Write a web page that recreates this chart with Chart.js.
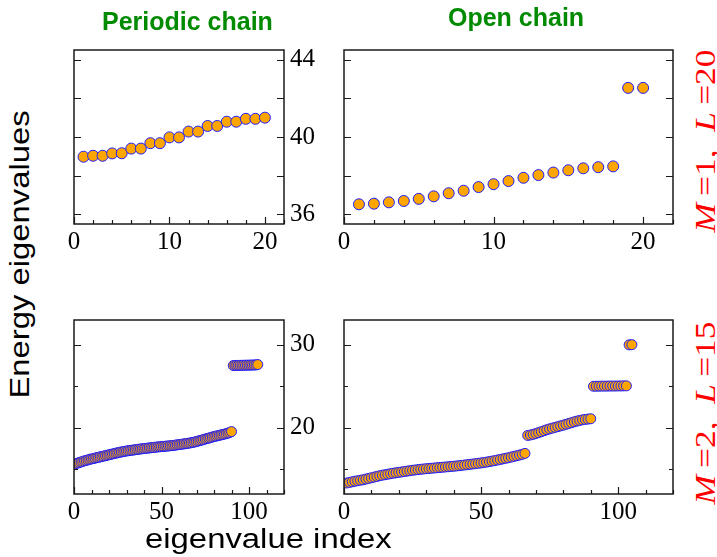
<!DOCTYPE html>
<html>
<head>
<meta charset="utf-8">
<script src="https://cdn.jsdelivr.net/npm/chart.js@4.4.0/dist/chart.umd.min.js"></script>
<style>
	body { margin: 0; background: #fff; }
	#wrap { position: relative; width: 717px; height: 557px; overflow: hidden; }
	canvas { position: absolute; }
	.lbl { position: absolute; white-space: nowrap; line-height: 1; }
	.title { font-family: 'Liberation Sans', Arial, sans-serif; font-weight: bold; font-size: 25px; color: #008a00; }
	.axis { font-family: 'Liberation Sans', Arial, sans-serif; font-size: 27px; line-height: 27px; color: #000; }
	.side { font-family: 'Liberation Serif', 'Times New Roman', serif; font-size: 30px; line-height: 30px; color: #ff0000; }
</style>
</head>
<body>
<div id="wrap">
	<canvas id="chartTL" width="266" height="236" style="left:58px;top:29px"></canvas>
	<canvas id="chartTR" width="356" height="236" style="left:328px;top:29px"></canvas>
	<canvas id="chartBL" width="266" height="236" style="left:58px;top:299px"></canvas>
	<canvas id="chartBR" width="356" height="236" style="left:328px;top:299px"></canvas>

	<div class="lbl title" style="left:102px;top:9px">Periodic chain</div>
	<div class="lbl title" style="left:448px;top:5px">Open chain</div>
	<div class="lbl axis rot" data-len="288" data-cx="20" data-cy="254">Energy eigenvalues</div>
	<div class="lbl axis" data-len="247" data-cx="268" data-cy="539">eigenvalue index</div>
	<div class="lbl side rot" data-len="183" data-cx="704" data-cy="141"><i>M</i>&#8201;=1,&#8194;<i>L</i>&#8201;=20</div>
	<div class="lbl side rot" data-len="183" data-cx="704" data-cy="413"><i>M</i>&#8201;=2,&#8194;<i>L</i>&#8201;=15</div>
</div>
<script>
	// M=1, L=20 (20 eigenvalues)
	const index20 = [1, 2, 3, 4, 5, 6, 7, 8, 9, 10, 11, 12, 13, 14, 15, 16, 17, 18, 19, 20];
	const periodic20 = [38.98, 39.03, 39.03, 39.15, 39.16, 39.40, 39.40, 39.68, 39.68, 39.98,
		39.98, 40.28, 40.28, 40.57, 40.57, 40.79, 40.79, 40.94, 40.94, 41.00];
	const open20 = [36.52, 36.55, 36.62, 36.69, 36.80, 36.93, 37.09, 37.22, 37.41, 37.56,
		37.72, 37.89, 38.03, 38.16, 38.28, 38.38, 38.44, 38.48, 42.54, 42.54];

	// M=2, L=15 (105 eigenvalues)
	const index105 = [
		1, 2, 3, 4, 5, 6, 7, 8, 9, 10, 11, 12, 13, 14, 15, 16, 17, 18, 19, 20,
		21, 22, 23, 24, 25, 26, 27, 28, 29, 30, 31, 32, 33, 34, 35, 36, 37, 38, 39, 40,
		41, 42, 43, 44, 45, 46, 47, 48, 49, 50, 51, 52, 53, 54, 55, 56, 57, 58, 59, 60,
		61, 62, 63, 64, 65, 66, 67, 68, 69, 70, 71, 72, 73, 74, 75, 76, 77, 78, 79, 80,
		81, 82, 83, 84, 85, 86, 87, 88, 89, 90, 91, 92, 93, 94, 95, 96, 97, 98, 99, 100,
		101, 102, 103, 104, 105];
	const periodic15 = [
		15.66, 15.72, 15.80, 15.86, 15.93, 16.00, 16.06, 16.12, 16.18, 16.23,
		16.28, 16.33, 16.38, 16.43, 16.48, 16.53, 16.58, 16.63, 16.68, 16.73,
		16.78, 16.83, 16.88, 16.93, 16.98, 17.03, 17.07, 17.11, 17.15, 17.19,
		17.22, 17.25, 17.28, 17.31, 17.34, 17.37, 17.40, 17.43, 17.46, 17.48,
		17.51, 17.53, 17.56, 17.58, 17.61, 17.63, 17.66, 17.68, 17.70, 17.72,
		17.74, 17.76, 17.78, 17.80, 17.82, 17.84, 17.87, 17.90, 17.93, 17.96,
		17.99, 18.02, 18.05, 18.08, 18.11, 18.15, 18.19, 18.23, 18.28, 18.33,
		18.39, 18.45, 18.51, 18.57, 18.63, 18.69, 18.75, 18.81, 18.87, 18.93,
		18.98, 19.03, 19.08, 19.13, 19.18, 19.23, 19.29, 19.35, 19.42, 19.53,
		27.50, 27.51, 27.52, 27.52, 27.53, 27.53, 27.54, 27.54, 27.55, 27.55,
		27.56, 27.56, 27.57, 27.58, 27.62];
	const open15 = [
		13.33, 13.40, 13.47, 13.54, 13.60, 13.66, 13.72, 13.80, 13.88, 13.96,
		14.04, 14.12, 14.20, 14.27, 14.33, 14.39, 14.45, 14.51, 14.56, 14.61,
		14.66, 14.71, 14.76, 14.81, 14.86, 14.90, 14.94, 14.98, 15.02, 15.05,
		15.08, 15.11, 15.14, 15.17, 15.20, 15.23, 15.26, 15.29, 15.32, 15.35,
		15.38, 15.42, 15.46, 15.50, 15.54, 15.58, 15.62, 15.66, 15.70, 15.75,
		15.80, 15.85, 15.91, 15.97, 16.03, 16.10, 16.17, 16.24, 16.31, 16.38,
		16.46, 16.54, 16.62, 16.70, 16.79, 16.90,
		19.07, 19.12, 19.20, 19.30, 19.41, 19.52, 19.64, 19.76, 19.86, 19.95,
		20.04, 20.13, 20.22, 20.31, 20.41, 20.51, 20.61, 20.71, 20.80, 20.88,
		20.95, 21.00, 21.04, 21.08,
		25.00, 25.01, 25.01, 25.02, 25.02, 25.02, 25.03, 25.03, 25.03, 25.04,
		25.04, 25.05, 25.05,
		30.00, 30.02];

	// tick labels
	const xLabelsTop = [0, 10, 20];
	const xLabelsBottom = [0, 50, 100];
	const yLabelsTop = [36, 40, 44];
	const yLabelsBottom = [20, 30];

	// frame box + inward tick marks, drawn from the chart's own scales
	const framePlugin = {
		id: 'frame',
		afterDraw(chart, args, opts) {
			const { ctx, chartArea: a, scales } = chart;
			ctx.save();
			ctx.strokeStyle = '#1a1a1a';
			ctx.lineWidth = 1.2;
			scales.x.ticks.forEach(t => {
				const px = Math.round(scales.x.getPixelForValue(t.value)) + 0.5;
				const len = opts.xLong.includes(t.value) ? 7 : 4;
				ctx.beginPath();
				ctx.moveTo(px, a.bottom);
				ctx.lineTo(px, a.bottom - len);
				ctx.stroke();
			});
			scales.y.ticks.forEach(t => {
				const py = Math.round(scales.y.getPixelForValue(t.value)) + 0.5;
				const len = opts.yLong.includes(t.value) ? 7 : 4;
				ctx.beginPath();
				ctx.moveTo(a.left, py);
				ctx.lineTo(a.left + len, py);
				ctx.moveTo(a.right, py);
				ctx.lineTo(a.right - len, py);
				ctx.stroke();
			});
			ctx.lineWidth = 1.5;
			ctx.strokeRect(a.left, a.top, a.right - a.left, a.bottom - a.top);
			ctx.restore();
		}
	};

	function makePanel(id, xs, ys, cfg) {
		const points = xs.map((x, i) => ({ x: x, y: ys[i] }));
		new Chart(document.getElementById(id), {
			type: 'scatter',
			data: {
				datasets: [{
					data: points,
					backgroundColor: '#ffa500',
					borderColor: '#1c1cff',
					borderWidth: 1,
					pointRadius: cfg.radius,
					pointHoverRadius: cfg.radius
				}]
			},
			options: {
				responsive: false,
				animation: false,
				events: [],
				layout: { padding: { left: 16, top: 16, right: 0, bottom: 0 } },
				plugins: {
					legend: { display: false },
					tooltip: { enabled: false },
					frame: { xLong: cfg.xLong, yLong: cfg.yLong }
				},
				scales: {
					x: {
						type: 'linear',
						min: 0,
						max: cfg.xMax,
						grid: { display: false, drawTicks: false },
						border: { display: false },
						ticks: {
							stepSize: cfg.xStep,
							includeBounds: false,
							autoSkip: false,
							maxRotation: 0,
							padding: 3,
							color: '#000',
							font: { family: 'Liberation Serif', size: 25 },
							callback: v => cfg.xLabels.includes(v) ? String(v) : ''
						},
						afterFit: s => { s.height = 41; }
					},
					y: {
						type: 'linear',
						position: 'right',
						min: cfg.yMin,
						max: cfg.yMax,
						grid: { display: false, drawTicks: false },
						border: { display: false },
						ticks: {
							stepSize: cfg.yStep,
							includeBounds: false,
							autoSkip: false,
							padding: 6,
							color: '#000',
							font: { family: 'Liberation Serif', size: 25 },
							callback: v => (cfg.showY && cfg.yLabels.includes(v)) ? String(v) : ''
						},
						afterFit: s => { s.width = cfg.yWidth; }
					}
				}
			},
			plugins: [framePlugin]
		});
	}

	makePanel('chartTL', index20, periodic20, {
		xMax: 22, xStep: 2, xLabels: xLabelsTop, xLong: xLabelsTop,
		yMin: 35.5, yMax: 44.5, yStep: 2, yLabels: yLabelsTop, yLong: [36, 38, 40, 42, 44],
		showY: true, yWidth: 40, radius: 5.5
	});
	makePanel('chartTR', index20, open20, {
		xMax: 22, xStep: 2, xLabels: xLabelsTop, xLong: xLabelsTop,
		yMin: 35.5, yMax: 44.5, yStep: 2, yLabels: yLabelsTop, yLong: [36, 38, 40, 42, 44],
		showY: false, yWidth: 11, radius: 5.5
	});
	makePanel('chartBL', index105, periodic15, {
		xMax: 120, xStep: 10, xLabels: xLabelsBottom, xLong: xLabelsBottom,
		yMin: 12, yMax: 33, yStep: 5, yLabels: yLabelsBottom, yLong: yLabelsBottom,
		showY: true, yWidth: 40, radius: 5
	});
	makePanel('chartBR', index105, open15, {
		xMax: 120, xStep: 10, xLabels: xLabelsBottom, xLong: xLabelsBottom,
		yMin: 12, yMax: 33, yStep: 5, yLabels: yLabelsBottom, yLong: yLabelsBottom,
		showY: false, yWidth: 11, radius: 5
	});

	// stretch / rotate the outer labels around their centres
	document.querySelectorAll('[data-len]').forEach(el => {
		const w = el.offsetWidth, h = el.offsetHeight;
		const k = parseFloat(el.dataset.len) / w;
		el.style.left = (parseFloat(el.dataset.cx) - w / 2) + 'px';
		el.style.top = (parseFloat(el.dataset.cy) - h / 2) + 'px';
		const rot = el.classList.contains('rot') ? 'rotate(-90deg) ' : '';
		el.style.transform = rot + 'scale(' + k.toFixed(3) + ',1)';
	});
</script>
</body>
</html>
